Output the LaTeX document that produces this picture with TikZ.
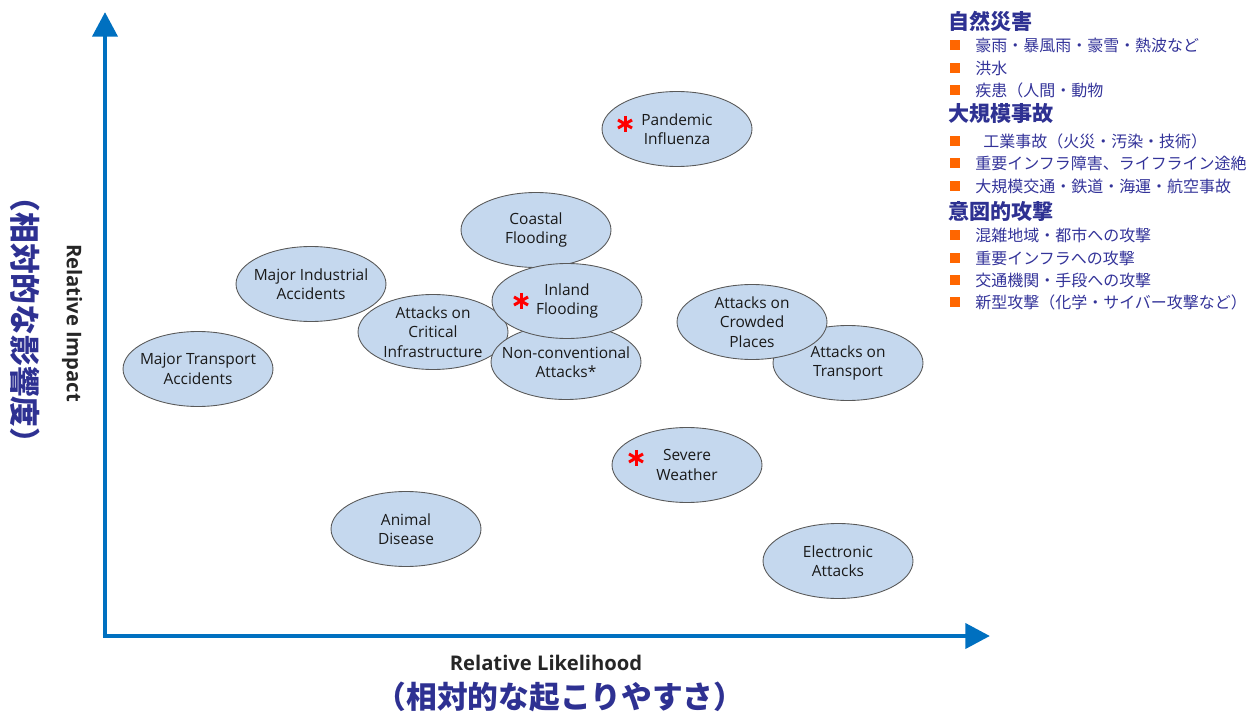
\documentclass[tikz,border=0pt]{standalone}
\usepackage{fontspec}
\setmainfont{Open Sans}
\newfontfamily\jpfont{Noto Sans CJK JP}
\usetikzlibrary{shapes.geometric,arrows.meta,positioning}
\definecolor{axisblue}{RGB}{0,112,192}
\definecolor{riskfill}{RGB}{197,216,238}
\definecolor{jpnavy}{RGB}{46,49,146}
\definecolor{legnavy}{RGB}{51,51,153}
\definecolor{legorange}{RGB}{255,102,0}
\tikzset{
  risk/.style={ellipse,draw=black!65,line width=0.5pt,fill=riskfill,minimum width=3cm,minimum height=1.5cm,
    inner xsep=-0.6cm,inner ysep=0pt,align=center,text=black!90,font=\fontsize{8.8}{11}\selectfont},
  redstar/.style={minimum size=12pt,inner sep=0pt,
    path picture={\foreach \a in {90,30,-30} \draw[red,line width=1.7pt] (path picture bounding box.center) ++(\a:4.6pt) -- ++(\a+180:9.2pt);}},
  axis/.style={axisblue,line width=2.8pt,-{Triangle[length=14pt,width=14pt]}},
  axislabel/.style={text=black!85,font=\bfseries\fontsize{11.5}{11.5}\selectfont},
  axisjp/.style={text=jpnavy,font=\jpfont\bfseries\fontsize{17.5}{17.5}\selectfont},
  leghead/.style={anchor=west,inner sep=0pt,text=jpnavy,font=\jpfont\bfseries\fontsize{12}{12}\selectfont},
  legitem/.style={anchor=west,inner sep=0pt,text=legnavy,font=\jpfont\fontsize{9.1}{9.1}\selectfont},
  legsq/.style={fill=legorange,minimum size=5.5pt,inner sep=0pt}
}
\begin{document}
\begin{tikzpicture}[x=0.02cm,y=-0.02cm]
\useasboundingbox (0,0) rectangle (1257,716);
% axes
\coordinate (O) at (105,636);
\coordinate (ytip) at (105,12);
\coordinate (xtip) at (990,636);
\draw[axis] (O) -- (ytip);
\draw[axis] ([xshift=-1.4pt]O) -- (xtip);
\node[axislabel,rotate=-90] (impact) at (72,323) {Relative Impact};
\node[axisjp,rotate=-90] (impactjp) at (25,320) {（相対的な影響度）};
\node[axislabel] (likely) at (546,663) {Relative Likelihood};
\node[axisjp] (likelyjp) at (560,697) {（相対的な起こりやすさ）};
% risks
\node[risk] (pandemic) at (677,129) {Pandemic\\Influenza};
\node[risk] (coastal) at (536,230) {Coastal\\Flooding};
\node[risk] (industrial) at (311,284) {Major Industrial\\Accidents};
\node[risk] (critical) at (433,332) {Attacks on\\Critical\\Infrastructure};
\node[risk] (nonconv) at (566,362) {Non-conventional\\Attacks*};
\node[risk] (inland) at (567,301) {Inland\\Flooding};
\node[risk] (transportacc) at (198,369) {Major Transport\\Accidents};
\node[risk] (transport) at (848,363) {Attacks on\\Transport};
\node[risk] (crowded) at (752,322) {Attacks on\\Crowded\\Places};
\node[risk] (weather) at (687,465) {Severe\\Weather};
\node[risk] (animal) at (406,529) {Animal\\Disease};
\node[risk] (electronic) at (838,561) {Electronic\\Attacks};
\node[redstar] (starP) at (625,124) {};
\node[redstar] (starI) at (521,301) {};
\node[redstar] (starW) at (636,458) {};
% legend
\node[leghead] (hNat) at (948,21) {自然災害};
\node[leghead] (hAcc) at (948,114) {大規模事故};
\node[leghead] (hAtt) at (948,211) {意図的攻撃};
\foreach \x/\y/\t in {975/45/豪雨・暴風雨・豪雪・熱波など,975/68/洪水,975/90/疾患（人間・動物,
  983/141/工業事故（火災・汚染・技術）,975/163/重要インフラ障害、ライフライン途絶,975/186/大規模交通・鉄道・海運・航空事故,
  975/235/混雑地域・都市への攻撃,975/258/重要インフラへの攻撃,975/280/交通機関・手段への攻撃,975/302/新型攻撃（化学・サイバー攻撃など）} {
  \node[legsq] (sq\y) at (955,\y) {};
  \node[legitem] (item\y) at (\x,\y) {\t};
}
\end{tikzpicture}
\end{document}
